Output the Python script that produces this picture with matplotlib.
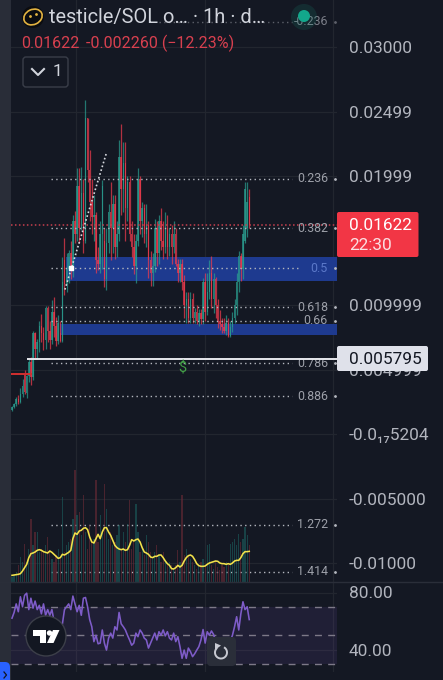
import matplotlib
matplotlib.use("Agg")
import matplotlib.pyplot as plt
import numpy as np
from matplotlib.patches import Rectangle, Circle, FancyBboxPatch, Ellipse, Polygon, Arc

plt.rcParams['font.family'] = ['Roboto', 'DejaVu Sans']

opens = [.0019,.0021,.0023,.0027,.0025,.0031,.0046,.0032,.0045,.0056,
 .0044,.0078,.0066,.0071,.0084,.0078,.0073,.0098,.0080,.0073,
 .0095,.0084,.0072,.0078,.0072,.0135,.0116,.0128,.0140,.0127,
 .0165,.0155,.0192,.0160,.0187,.0150,.0245,.0205,.0180,.0168,
 .0170,.0135,.0132,.0155,.0150,.0120,.0148,.0172,.0160,.0178,
 .0145,.0155,.0215,.0190,.0210,.0175,.0195,.0155,.0145,.0130,
 .0150,.0198,.0165,.0175,.0155,.0162,.0135,.0125,.0130,.0160,
 .0140,.0165,.0150,.0145,.0160,.0145,.0155,.0145,.0155,.0132,
 .0125,.0132,.0118,.0100,.0105,.0090,.0105,.0090,.0095,.0088,
 .0094,.0089,.0118,.0095,.0110,.0125,.0105,.0120,.0100,.0088,
 .0085,.0083,.0080,.0086,.0076,.0083,.0090,.0100,.0118,.0138,
 .0128,.0150,.0160,.0184]
closes = [.0021,.0023,.0027,.0025,.0031,.0037,.0033,.0045,.0056,.0044,
 .0078,.0066,.0071,.0084,.0078,.0073,.0098,.0080,.0073,.0095,
 .0084,.0072,.0086,.0072,.0118,.0116,.0128,.0140,.0127,.0165,
 .0155,.0192,.0160,.0187,.0150,.0245,.0205,.0180,.0168,.0170,
 .0135,.0132,.0155,.0192,.0120,.0148,.0172,.0160,.0178,.0145,
 .0155,.0215,.0190,.0210,.0175,.0195,.0155,.0145,.0130,.0150,
 .0198,.0165,.0175,.0155,.0162,.0135,.0125,.0130,.0160,.0140,
 .0165,.0150,.0145,.0160,.0145,.0155,.0145,.0155,.0132,.0125,
 .0132,.0118,.0100,.0105,.0090,.0105,.0090,.0095,.0088,.0094,
 .0089,.0118,.0095,.0110,.0125,.0105,.0120,.0100,.0088,.0085,
 .0083,.0080,.0086,.0076,.0083,.0090,.0100,.0118,.0138,.0128,
 .0155,.0190,.0180,.0162]
highs = [.0022,.0024,.0029,.0030,.0036,.0043,.0050,.0046,.0058,.0060,
 .0080,.0079,.0074,.0088,.0093,.0083,.0099,.0099,.0088,.0104,
 .0106,.0091,.0092,.0088,.0137,.0152,.0140,.0143,.0150,.0170,
 .0173,.0206,.0206,.0207,.0198,.0259,.0245,.0220,.0198,.0185,
 .0172,.0145,.0165,.0197,.0160,.0160,.0178,.0195,.0185,.0185,
 .0165,.0228,.0240,.0226,.0226,.0200,.0200,.0165,.0155,.0155,
 .0206,.0200,.0180,.0178,.0178,.0165,.0142,.0140,.0167,.0165,
 .0170,.0175,.0165,.0172,.0170,.0160,.0162,.0165,.0160,.0136,
 .0136,.0136,.0123,.0110,.0110,.0110,.0109,.0098,.0100,.0097,
 .0097,.0121,.0125,.0125,.0135,.0138,.0125,.0122,.0105,.0096,
 .0090,.0090,.0092,.0090,.0088,.0095,.0105,.0125,.0142,.0140,
 .0162,.0195,.0195,.0190]
lows = [.0018,.0020,.0022,.0023,.0024,.0029,.0031,.0028,.0040,.0038,
 .0042,.0059,.0058,.0064,.0071,.0065,.0066,.0071,.0066,.0070,
 .0075,.0068,.0070,.0071,.0071,.0108,.0110,.0117,.0120,.0122,
 .0148,.0150,.0148,.0158,.0140,.0148,.0195,.0165,.0155,.0150,
 .0125,.0127,.0125,.0128,.0114,.0112,.0140,.0135,.0140,.0136,
 .0137,.0150,.0170,.0172,.0150,.0165,.0150,.0137,.0124,.0117,
 .0146,.0155,.0153,.0148,.0145,.0121,.0115,.0115,.0126,.0130,
 .0132,.0143,.0136,.0140,.0136,.0138,.0132,.0140,.0130,.0118,
 .0118,.0112,.0090,.0086,.0086,.0086,.0086,.0086,.0085,.0084,
 .0085,.0085,.0088,.0092,.0105,.0098,.0094,.0090,.0082,.0081,
 .0078,.0078,.0077,.0075,.0075,.0079,.0086,.0092,.0110,.0119,
 .0120,.0148,.0153,.0160]

volumes = [15,20,30,50,75,60,115,60,100,190,110,150,150,90,100,90,110,135,90,70,
 60,80,100,70,255,90,110,120,130,190,335,200,210,140,260,150,100,170,120,130,
 305,120,200,150,295,220,130,150,110,120,140,170,100,150,120,175,245,100,120,235,
 150,90,100,80,140,120,90,70,90,110,80,60,90,60,50,60,50,40,50,95,
 60,260,80,100,80,70,60,50,40,50,60,70,50,110,115,50,40,60,45,35,
 50,45,60,50,115,120,130,110,145,120,130,165,140,110]
volume_ma = [20,21,22,23,25,33,43,53,73,85,87,90,95,97,95,91,89,87,93,89,
 83,77,71,73,83,81,85,89,95,130,147,143,153,155,161,163,157,135,120,117,
 130,143,130,150,163,163,150,140,125,110,103,99,97,99,95,97,110,127,123,127,
 129,120,103,90,87,83,75,73,77,77,81,81,73,63,55,50,40,39,43,50,
 45,50,63,73,79,81,77,67,55,49,47,47,48,53,57,59,61,63,62,57,
 55,55,53,55,53,57,63,65,65,73,85,91,91,92]
rsi = [62,66,72,66.5,77,70,78,79.5,68,76,69,74,68,71,65,72,64,68,64,68,
 60,55,52,50,58,68,70,72,68,77.5,72,66.5,71,64,76,76.5,70,61,56,45.5,
 50,44,44.5,53.7,44.5,39.6,48,51.5,48,56,53.7,66,58,56,53.7,50,46.7,43,44.5,51.5,
 49,53.7,51.5,48,46.7,41,44.5,48,51.5,46.7,52.5,50,53.7,49.5,52.5,48,46.7,51.5,45.5,49,
 42,33.8,39.6,33.8,41,38.5,35,37,39.6,42,46.7,54,44.5,52.5,50,53,50.6,45,42,40,
 38,40,42,44,46,50,56,63,53.7,65,73.5,68,70,61]

price_ticks = [0.03, 0.02499, 0.01999, 0.009999, 0.004999, -0.0000000000000000005204, -0.005, -0.01]
price_tick_labels = ["0.03000", "0.02499", "0.01999", "0.009999", "0.004999", "-0.0₁₇5204", "-0.005000", "-0.01000"]
fib_levels = ["-0.236", "0.236", "0.382", "0.5", "0.618", "0.66", "0.786", "0.886", "1.272", "1.414"]
fib_prices = [.03194, .01977, .01597, .01287, .00985, .00877, .00551, .00295, -.00701, -.01065]
last_price = 0.01622
marked_price = 0.005795
red_line_price = 0.00466
bands = [(.01187, .01373), (.00768, .00853)]
band_starts = [25.5, 23]
rsi_ticks = [80, 40]
rsi_tick_labels = ["80.00", "40.00"]
rsi_bands = [70, 50, 30]

BG = '#141823'; GRID = '#22262f'; GREEN = '#2a9d8f'; RED = '#ef3b4d'; TXT = '#b2b5be'
W, H = 443, 680
fig = plt.figure(figsize=(W/100, H/100), dpi=100, facecolor=BG)

def axes_px(x0, y0, x1, y1, z=1):
    return fig.add_axes([x0/W, 1-y1/H, (x1-x0)/W, (y1-y0)/H], zorder=z)

n = len(opens)
idx = np.arange(n)
xlim = (-0.48, 154.8)

# main pane
ax = axes_px(11, 0, 337, 582, 2)
ax.set_facecolor(BG)
ax.set_xlim(*xlim)
ax.set_ylim(-.01146, .03364)
for s in ax.spines.values():
    s.set_visible(False)
ax.yaxis.tick_right()
ax.set_yticks(price_ticks)
ax.set_yticklabels(price_tick_labels, fontsize=12.4, color=TXT)
ax.tick_params(axis='y', length=0, pad=8.6)
ax.set_xticks([30.5, 91.9, 152.9])
ax.tick_params(axis='x', length=0, labelbottom=False)
ax.grid(True, color=GRID, lw=0.9, zorder=0)
ax.set_axisbelow(True)

for (lo, hi), st in zip(bands, band_starts):
    ax.axhspan(lo, hi, xmin=(st - xlim[0])/(xlim[1]-xlim[0]), color='#1e3a8f', lw=0, zorder=1)

o, c, h, l = map(np.array, (opens, closes, highs, lows))
cols = [GREEN if a >= b else RED for a, b in zip(c, o)]
ax.vlines(idx, l, h, colors=cols, lw=0.9, alpha=0.72, zorder=3)
ax.bar(idx, np.abs(c-o), bottom=np.minimum(c, o), width=0.7, color=cols, alpha=0.72, lw=0, zorder=3)

dot = (0, (1, 2.4))
for name, p in zip(fib_levels, fib_prices):
    end = 137 if name in ("0.5", "0.66") else 133.3
    col = '#b4b7bf' if name != "-0.236" else '#5d606a'
    ax.hlines(p, 18.6 if name != "-0.236" else 70, end, colors=col, lw=1.0, linestyles=[dot], zorder=4)
    tc = '#5b78c9' if name == "0.5" else ('#7b7e88' if name == "-0.236" else '#9da0a9')
    ax.text(150.5, p, name, color=tc, fontsize=8.9, ha='right', va='center', zorder=5)
    ax.plot([153.8], [p], marker='o', ms=1, color=col, zorder=4)

ax.hlines(last_price, xlim[0], xlim[1], colors='#c8404f', lw=1.1, linestyles=[(0, (1, 1.6))], zorder=4)
ax.hlines(marked_price, 7, xlim[1], colors='#e6e7ec', lw=1.4, zorder=5)
ax.hlines(red_line_price, xlim[0], 9.5, colors='#d32f2f', lw=1.4, zorder=5)
ax.plot([25.2, 45], [.0112, .0218], color='#d8dae0', lw=1.2, linestyle=(0, (1, 1.4)), zorder=6)
ax.plot([28], [.01287], marker='s', ms=2.2, color='white', zorder=6)
ax.text(81, .00505, "$", color='#43a047', fontsize=10.5, ha='center', va='center', zorder=6)

# volume pane
av = axes_px(11, 460, 337, 582, 3)
av.patch.set_alpha(0)
av.set_xlim(*xlim)
av.set_ylim(0, 366)
av.axis('off')
vcols = ['#1b5c5c' if a >= b else '#6a2a36' for a, b in zip(c, o)]
av.bar(idx, volumes, width=0.6, color=vcols, lw=0, alpha=0.62, zorder=2)
av.plot(idx, volume_ma, color='#f2e24b', lw=1.15, zorder=3)

# rsi pane
ar = axes_px(11, 582, 337, 672, 2)
ar.set_facecolor(BG)
ar.set_xlim(*xlim)
ar.set_ylim(40-(672-649.5)/1.425, 40+(649.5-582)/1.425)
for s in ar.spines.values():
    s.set_visible(False)
ar.yaxis.tick_right()
ar.set_yticks(rsi_ticks)
ar.set_yticklabels(rsi_tick_labels, fontsize=12.4, color=TXT)
ar.tick_params(axis='y', length=0, pad=8.6)
ar.set_xticks([30.5, 91.9, 152.9])
ar.tick_params(axis='x', length=0, labelbottom=False)
ar.grid(True, color=GRID, lw=0.9)
ar.set_axisbelow(True)
ar.axhspan(rsi_bands[2], rsi_bands[0], color='#7e57c2', alpha=0.12, lw=0, zorder=1)
for v in rsi_bands:
    ar.axhline(v, color='#7d7988', lw=1.0, linestyle=(0, (5, 4.5)), zorder=2)
ar.plot(idx, rsi, color='#7e5cc8', lw=1.15, zorder=3)

# chrome overlay in pixel coordinates
ov = fig.add_axes([0, 0, 1, 1], zorder=10)
ov.set_xlim(0, W); ov.set_ylim(H, 0); ov.axis('off'); ov.patch.set_alpha(0)
ov.add_patch(Rectangle((0, 0), 11, H, color='#292d38', lw=0))
ov.plot([0, W], [582, 582], color='#2a2e39', lw=1)
# blue tab
ov.add_patch(FancyBboxPatch((-6, 662), 16, 30, boxstyle="round,pad=0,rounding_size=5", color='#2962ff', lw=0))
ov.plot([4, 6.5, 4], [672, 675, 678], color='#101420', lw=0.9)
# header
ov.add_patch(Circle((33, 17), 11, color='#0b0c10', lw=0))
ov.add_patch(Ellipse((33, 17), 19, 15, angle=-25, fill=False, ec='#e3b341', lw=1.2))
ov.plot([30, 36], [16, 14], ls='', marker='o', ms=1, color='#e3b341')
ov.text(49, 17, "testicle/SOL o… · 1h · d…", color='#d1d4dc', fontsize=14.4, ha='left', va='center')
ov.add_patch(Circle((304, 17), 13, color='#14a88c', alpha=0.14, lw=0))
ov.add_patch(Circle((304, 16), 6, color='#12a88c', lw=0))
ov.text(21, 43, "0.01622", color='#d8404f', fontsize=11.5, ha='left', va='center')
ov.text(86, 43, "-0.002260 (−12.23%)", color='#d8404f', fontsize=11.5, ha='left', va='center')
ov.add_patch(FancyBboxPatch((23, 57), 45, 30, boxstyle="round,pad=0,rounding_size=3", fc=BG, ec='#3a3e49', lw=1))
ov.plot([32, 38, 44], [69, 75, 69], color='#d1d4dc', lw=1.5)
ov.text(57, 71.5, "1", color='#d1d4dc', fontsize=12.5, ha='center', va='center')
# price labels
ov.add_patch(FancyBboxPatch((337, 212), 81.5, 45, boxstyle="round,pad=0,rounding_size=2", color='#f23645', lw=0))
ov.text(349, 225, "0.01622", color='white', fontsize=12.4, ha='left', va='center')
ov.text(349, 245, "22:30", color='#fbdfe2', fontsize=12.4, ha='left', va='center')
ov.add_patch(FancyBboxPatch((337, 346), 91, 25, boxstyle="round,pad=0,rounding_size=2", color='#dfe1ea', lw=0))
ov.text(349, 359, "0.005795", color='#131722', fontsize=12.4, ha='left', va='center')
# TradingView logo
ov.add_patch(Circle((46, 636), 20, fc='#131722', ec='#3c3f49', lw=1))
ov.add_patch(Polygon([(33, 630), (46, 630), (46, 643), (40, 643), (40, 635.5), (33, 635.5)], color='white', lw=0))
ov.add_patch(Circle((49.5, 633), 2.7, color='white', lw=0))
ov.add_patch(Polygon([(53, 630), (59.5, 630), (53.5, 643), (47, 643)], color='white', lw=0))
# reload button
ov.add_patch(FancyBboxPatch((207, 637), 29, 29, boxstyle="round,pad=0,rounding_size=4", color='#2a2e39', lw=0))
ov.add_patch(Arc((221, 652.5), 12, 12, theta1=-60, theta2=230, color='#c8cad2', lw=1.4))
ov.add_patch(Polygon([(215, 643), (221, 645.5), (215, 650)], color='#c8cad2', lw=0))

fig.savefig("out.png", dpi=100, facecolor=BG)
